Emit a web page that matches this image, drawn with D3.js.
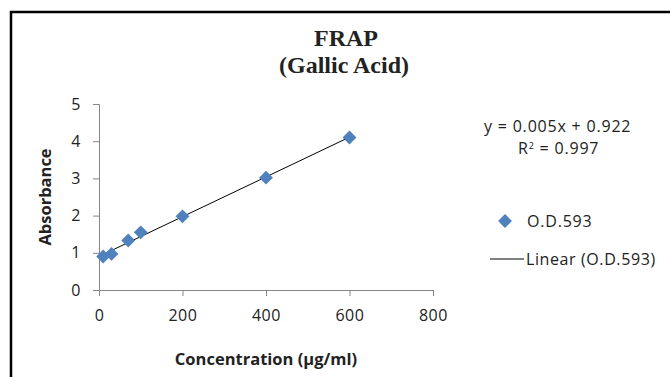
<!DOCTYPE html>
<html>
<head>
<meta charset="utf-8">
<script src="https://cdn.jsdelivr.net/npm/d3@7"></script>
<style>
  body { margin: 0; background: #fff; }
  svg text { font-family: "Open Sans", sans-serif; fill: #222; }
</style>
</head>
<body>
<svg id="canvas" width="670" height="377"></svg>
<script>
// data
let concentration = [10, 30, 70, 100, 200, 400, 600];
let absorbance = [0.9, 0.97, 1.33, 1.55, 1.98, 3.02, 4.1];
let xTicks = [0, 200, 400, 600, 800];
let yTicks = [0, 1, 2, 3, 4, 5];
let seriesName = 'O.D.593';

let canvas = d3.select('#canvas');

let x = d3.scaleLinear().domain([0, 800]).range([99, 433]);
let y = d3.scaleLinear().domain([0, 5]).range([290, 104]);

// frame round the chart
canvas.append('path')
  .attr('d', 'M11,377 V12 H670')
  .attr('fill', 'none')
  .attr('stroke', '#000')
  .attr('stroke-width', 2.5);

// titles
canvas.append('text').attr('x', 346).attr('y', 46)
  .attr('text-anchor', 'middle')
  .style('font-family', '"Liberation Serif", serif')
  .style('font-weight', 'bold').style('font-size', '24px')
  .text('FRAP');
canvas.append('text').attr('x', 344).attr('y', 73)
  .attr('text-anchor', 'middle')
  .style('font-family', '"Liberation Serif", serif')
  .style('font-weight', 'bold').style('font-size', '24px')
  .text('(Gallic Acid)');

// axes
let xAxis = d3.axisBottom(x).tickValues(xTicks).tickSizeOuter(0).tickSize(6).tickPadding(14);
let yAxis = d3.axisLeft(y).tickValues(yTicks).tickFormat(d3.format('d'))
  .tickSizeOuter(0).tickSize(6).tickPadding(12);

let gx = canvas.append('g').attr('transform', 'translate(0,' + y(0) + ')').call(xAxis);
let gy = canvas.append('g').attr('transform', 'translate(' + x(0) + ',0)').call(yAxis);

[gx, gy].forEach(g => {
  g.select('.domain').attr('stroke', '#868686');
  g.selectAll('.tick line').attr('stroke', '#868686');
  g.selectAll('.tick text')
    .style('font-family', '"Open Sans", sans-serif')
    .style('font-size', '16px')
    .style('letter-spacing', '0.6px')
    .attr('fill', '#222');
});

// axis titles
canvas.append('text').attr('x', 266).attr('y', 365)
  .attr('text-anchor', 'middle')
  .style('font-weight', 'bold').style('font-size', '16.5px')
  .text('Concentration (µg/ml)');
canvas.append('text')
  .attr('transform', 'translate(51,197) rotate(-90)')
  .attr('text-anchor', 'middle')
  .style('font-weight', 'bold').style('font-size', '16.5px')
  .text('Absorbance');

// least squares trend line
let mx = d3.mean(concentration);
let my = d3.mean(absorbance);
let sxy = d3.sum(concentration, (c, i) => (c - mx) * (absorbance[i] - my));
let sxx = d3.sum(concentration, c => (c - mx) * (c - mx));
let slope = sxy / sxx;
let intercept = my - slope * mx;
let xExt = d3.extent(concentration);

canvas.append('line')
  .attr('x1', x(xExt[0])).attr('y1', y(slope * xExt[0] + intercept))
  .attr('x2', x(xExt[1])).attr('y2', y(slope * xExt[1] + intercept))
  .attr('stroke', '#000').attr('stroke-width', 1);

// diamond markers
let diamond = d3.symbol().type(d3.symbolSquare).size(96);
canvas.selectAll('.pt')
  .data(concentration)
  .enter()
  .append('path')
  .attr('class', 'pt')
  .attr('d', diamond())
  .attr('transform', (c, i) => 'translate(' + x(c) + ',' + y(absorbance[i]) + ') rotate(45)')
  .attr('fill', '#4F81BD');

// trend equation
canvas.append('text').attr('x', 484).attr('y', 132)
  .style('font-size', '16px').style('letter-spacing', '0.8px')
  .text('y = 0.005x + 0.922');
let r2 = canvas.append('text').attr('x', 518).attr('y', 154)
  .style('font-size', '16px').style('letter-spacing', '0.8px');
r2.append('tspan').text('R');
r2.append('tspan').attr('dy', -5).style('font-size', '9px').text('2');
r2.append('tspan').attr('dy', 5).text(' = 0.997');

// legend
canvas.append('path')
  .attr('d', diamond())
  .attr('transform', 'translate(505,221) rotate(45)')
  .attr('fill', '#4F81BD');
canvas.append('text').attr('x', 527).attr('y', 227)
  .style('font-size', '16px').style('letter-spacing', '0.8px')
  .text(seriesName);
canvas.append('line')
  .attr('x1', 490).attr('x2', 524).attr('y1', 259).attr('y2', 259)
  .attr('stroke', '#000').attr('stroke-width', 1);
canvas.append('text').attr('x', 526).attr('y', 265)
  .style('font-size', '16px').style('letter-spacing', '0.6px')
  .text('Linear (' + seriesName + ')');
</script>
</body>
</html>
